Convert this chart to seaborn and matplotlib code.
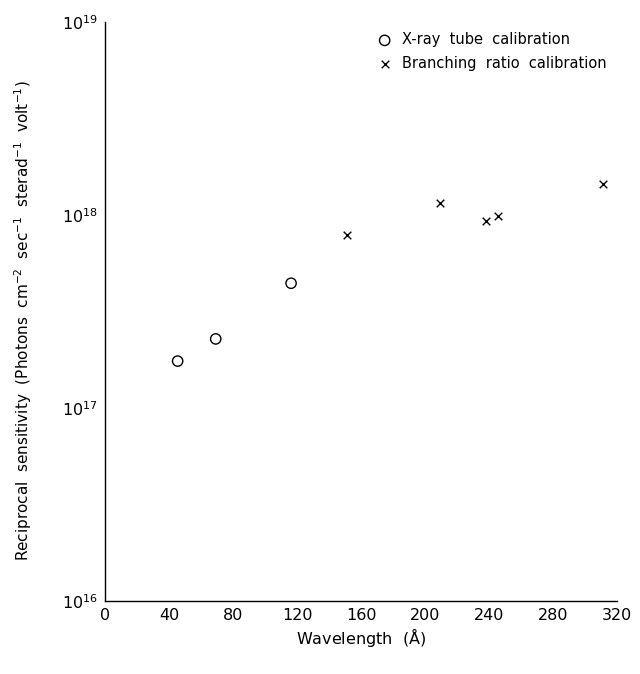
import matplotlib
matplotlib.use("Agg")
import matplotlib.pyplot as plt
import seaborn as sns
import numpy as np

# Data
xray_wavelength = [45.4, 69.2, 116.3]
xray_sensitivity = [1.75e17, 2.28e17, 4.43e17]
branch_wavelength = [151.0, 209.4, 237.9, 245.4, 311.4]
branch_sensitivity = [7.87e17, 1.16e18, 9.33e17, 9.89e17, 1.44e18]

x_ticks = [0, 40, 80, 120, 160, 200, 240, 280, 320]
y_ticks = [1e16, 1e17, 1e18, 1e19]
y_tick_labels = [r"$10^{16}$", r"$10^{17}$", r"$10^{18}$", r"$10^{19}$"]

sns.set_style("white")
plt.rcParams['font.family'] = ['DejaVu Sans']
for k in ['text.color', 'axes.labelcolor', 'xtick.color', 'ytick.color']:
    plt.rcParams[k] = 'black'

fig = plt.figure(figsize=(6.4, 6.74), dpi=100)
ax = fig.add_axes([105/640, 1 - 601/674, (617 - 105)/640, (601 - 22)/674])

sns.scatterplot(x=xray_wavelength, y=xray_sensitivity, marker='o', s=55,
                facecolors='none', edgecolor='black', linewidth=1.0,
                label="X-ray  tube  calibration", ax=ax)
sns.scatterplot(x=branch_wavelength, y=branch_sensitivity, marker='x', s=30,
                color='black', linewidth=1.0,
                label="Branching  ratio  calibration", ax=ax)

ax.set_yscale('log')
ax.set_xlim(0, 320)
ax.set_ylim(1e16, 1e19)
ax.set_xticks(x_ticks)
ax.set_xticklabels([str(t) for t in x_ticks], fontsize=11.5)
ax.set_yticks(y_ticks)
ax.set_yticklabels(y_tick_labels, fontsize=11.5)
ax.yaxis.set_minor_locator(matplotlib.ticker.NullLocator())
ax.tick_params(length=0, pad=5)

for s in ['top', 'right']:
    ax.spines[s].set_visible(False)
for s in ['left', 'bottom']:
    ax.spines[s].set_color('black')
    ax.spines[s].set_linewidth(1.0)

ax.set_xlabel(r"Wavelength  ($\mathrm{\AA}$)", fontsize=11.5, labelpad=2.5)
ax.set_ylabel(r"Reciprocal  sensitivity  (Photons  cm$^{-2}$  sec$^{-1}$  sterad$^{-1}$  volt$^{-1}$)",
              fontsize=11)
ax.yaxis.set_label_coords(-0.139, 0.484)

leg = ax.legend(loc='upper right', frameon=False, fontsize=10.5,
                handletextpad=0.2, labelspacing=0.6, borderaxespad=0.3,
                borderpad=0.4)

fig.savefig("out.png", dpi=100)
